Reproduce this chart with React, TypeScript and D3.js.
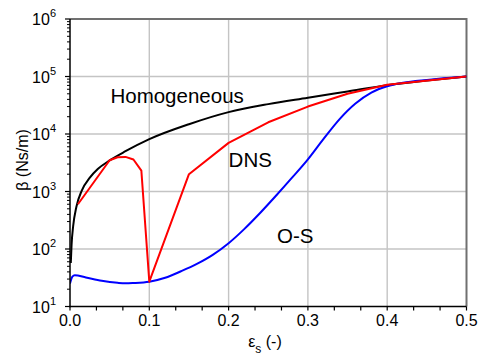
import React, { useEffect, useRef } from "react";
import * as d3 from "d3";

// strain (-) vs damping coefficient beta (Ns/m)
const homX = [0.001, 0.002, 0.004, 0.008, 0.015, 0.025, 0.035, 0.05, 0.07, 0.1, 0.15, 0.2, 0.25, 0.3, 0.35, 0.4, 0.45, 0.5];
const homY = [57, 120, 251, 537, 1047, 1738, 2455, 3467, 5012, 8128, 14800, 24000, 33100, 42700, 55000, 70800, 85100, 100000];

const dnsX = [0.01, 0.05, 0.06, 0.07, 0.08, 0.09, 0.1, 0.15, 0.2, 0.25, 0.3, 0.35, 0.4, 0.5];
const dnsY = [600, 3500, 3950, 4000, 3600, 2300, 27, 2000, 7000, 16000, 30000, 50000, 72000, 100000];

const osX = [0, 0.003, 0.006, 0.02, 0.04, 0.06, 0.07, 0.08, 0.1, 0.12, 0.14, 0.16, 0.18, 0.2, 0.22, 0.24, 0.26, 0.28, 0.3, 0.32, 0.34, 0.36, 0.38, 0.4, 0.42, 0.45, 0.5];
const osY = [25, 33, 35, 32, 28, 25.8, 25.3, 25.6, 27, 31.6, 41, 55, 79, 126, 224, 427, 851, 1740, 3630, 8320, 18200, 33900, 52500, 67600, 77600, 87100, 100000];

const xTicks = [0, 0.1, 0.2, 0.3, 0.4, 0.5];
const yExps = [1, 2, 3, 4, 5, 6];

const curveLabels = [
  { text: "Homogeneous", x: 0.051, y: 35000 },
  { text: "DNS", x: 0.2, y: 2700 },
  { text: "O-S", x: 0.261, y: 125 },
];

const App = () => {
  const ref = useRef<SVGSVGElement | null>(null);

  useEffect(() => {
    draw();
  });

  const draw = () => {
    const svg = d3.select(ref.current);
    svg.selectAll("*").remove();

    const left = 70;
    const right = 466.5;
    const top = 19;
    const bottom = 306.5;

    const x = d3.scaleLinear().domain([0, 0.5]).range([left, right]);
    const y = d3.scaleLog().domain([10, 1e6]).range([bottom, top]);

    // grid
    const grid = svg.append("g");
    xTicks.slice(1, -1).forEach((t) => {
      grid
        .append("line")
        .attr("x1", x(t))
        .attr("x2", x(t))
        .attr("y1", top)
        .attr("y2", bottom)
        .attr("stroke", "#c4c4c4")
        .attr("stroke-width", 1.4);
    });
    yExps.slice(1, -1).forEach((e) => {
      grid
        .append("line")
        .attr("x1", left)
        .attr("x2", right)
        .attr("y1", y(10 ** e))
        .attr("y2", y(10 ** e))
        .attr("stroke", "#c4c4c4")
        .attr("stroke-width", 1.4);
    });

    // top / right frame
    svg
      .append("path")
      .attr("d", `M${left},${top}H${right}V${bottom}`)
      .attr("fill", "none")
      .attr("stroke", "#707070")
      .attr("stroke-width", 2);

    svg
      .append("clipPath")
      .attr("id", "plot-clip")
      .append("rect")
      .attr("x", left)
      .attr("y", top)
      .attr("width", right - left)
      .attr("height", bottom - top);

    const series = [
      { xs: homX, ys: homY, color: "#000000", curve: d3.curveMonotoneX },
      { xs: osX, ys: osY, color: "#0000ff", curve: d3.curveMonotoneX },
      { xs: dnsX, ys: dnsY, color: "#ff0000", curve: d3.curveLinear },
    ];

    series.forEach((s) => {
      const pts: [number, number][] = s.xs.map((v, i) => [v, s.ys[i]]);
      svg
        .append("path")
        .datum(pts)
        .attr("clip-path", "url(#plot-clip)")
        .attr("fill", "none")
        .attr("stroke", s.color)
        .attr("stroke-width", 2)
        .attr("stroke-linejoin", "round")
        .attr(
          "d",
          d3
            .line<[number, number]>()
            .x((d) => x(d[0]))
            .y((d) => y(d[1]))
            .curve(s.curve)
        );
    });

    // axes
    const axes = svg.append("g").attr("stroke", "#000").attr("stroke-width", 1.5);
    axes.append("line").attr("x1", left).attr("x2", left).attr("y1", top).attr("y2", bottom + 0.75);
    axes.append("line").attr("x1", left - 0.75).attr("x2", right).attr("y1", bottom).attr("y2", bottom);

    // x ticks every 1/30
    d3.range(0, 16).forEach((i) => {
      const v = i / 30;
      axes
        .append("line")
        .attr("stroke-width", 1.2)
        .attr("x1", x(v))
        .attr("x2", x(v))
        .attr("y1", bottom)
        .attr("y2", bottom + 4);
    });

    // y ticks, log minor
    yExps.forEach((e) => {
      axes
        .append("line")
        .attr("stroke-width", 1.2)
        .attr("x1", left - 5)
        .attr("x2", left)
        .attr("y1", y(10 ** e))
        .attr("y2", y(10 ** e));
      if (e < 6) {
        d3.range(2, 10).forEach((m) => {
          axes
            .append("line")
            .attr("stroke-width", 1)
            .attr("x1", left - 3)
            .attr("x2", left)
            .attr("y1", y(m * 10 ** e))
            .attr("y2", y(m * 10 ** e));
        });
      }
    });

    const font = "'Liberation Sans', Arial, sans-serif";

    svg
      .append("g")
      .selectAll("text")
      .data(xTicks)
      .join("text")
      .attr("x", (d) => x(d))
      .attr("y", 326)
      .attr("text-anchor", "middle")
      .attr("font-family", font)
      .attr("font-size", 16)
      .text((d) => d3.format(".1f")(d));

    const yl = svg
      .append("g")
      .selectAll("text")
      .data(yExps)
      .join("text")
      .attr("x", 56)
      .attr("y", (d) => y(10 ** d) + 6)
      .attr("text-anchor", "end")
      .attr("font-family", font)
      .attr("font-size", 16);
    yl.append("tspan").text("10");
    yl.append("tspan").attr("dy", -8).attr("font-size", 11).text((d) => String(d));

    // axis titles
    const xt = svg
      .append("text")
      .attr("x", 265)
      .attr("y", 347)
      .attr("text-anchor", "middle")
      .attr("font-family", font)
      .attr("font-size", 16);
    xt.append("tspan").text("ε");
    xt.append("tspan").attr("dy", 6).attr("font-size", 12).text("s");
    xt.append("tspan").attr("dy", -6).text(" (-)");

    svg
      .append("text")
      .attr("transform", "translate(28,160) rotate(-90)")
      .attr("text-anchor", "middle")
      .attr("font-family", font)
      .attr("font-size", 16)
      .text("β (Ns/m)");

    svg
      .append("g")
      .selectAll("text")
      .data(curveLabels)
      .join("text")
      .attr("x", (d) => x(d.x))
      .attr("y", (d) => y(d.y))
      .attr("font-family", font)
      .attr("font-size", 20.5)
      .text((d) => d.text);
  };

  return (
    <div style={{ position: "absolute", left: 0, top: 0, width: 482, height: 356, background: "#fff" }}>
      <svg ref={ref} width={482} height={356} style={{ display: "block" }}></svg>
    </div>
  );
};

export default App;
